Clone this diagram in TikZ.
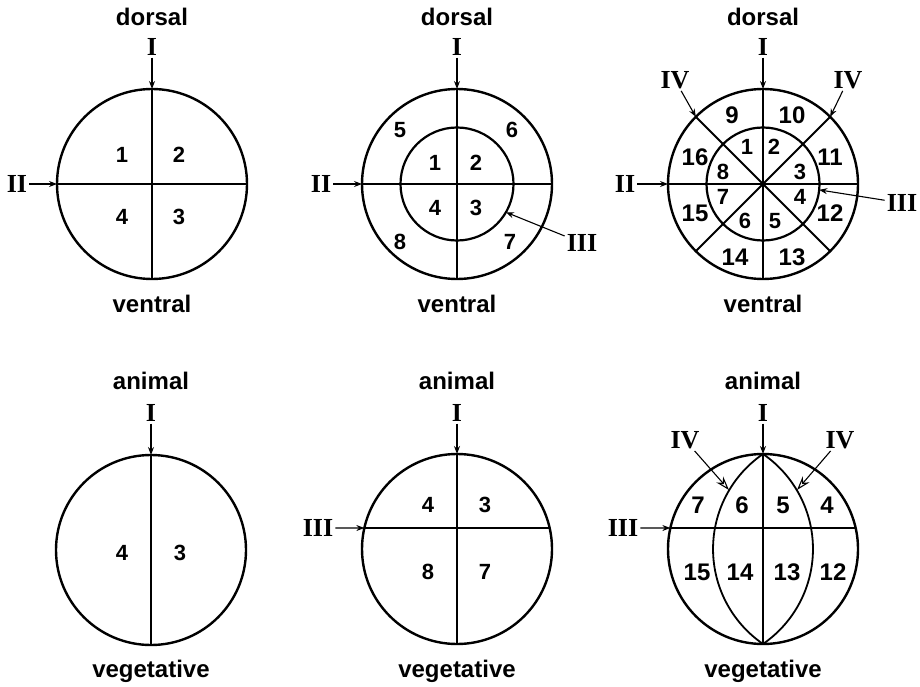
\documentclass[tikz,border=0pt]{standalone}
\usepackage{fontspec}
\setsansfont{Liberation Sans}
\newfontfamily\romanfont{Liberation Serif}
\usetikzlibrary{arrows.meta}

\begin{document}
\begin{tikzpicture}[x=1pt, y=1pt,
  egg/.style={draw, circle, line width=2.4pt, inner sep=0pt, outer sep=0pt, minimum size=190pt},
  core/.style={draw, circle, line width=2.2pt, inner sep=0pt, outer sep=0pt, minimum size=113pt},
  furrow/.style={line width=1.8pt},
  pole/.style={font=\sffamily\bfseries\fontsize{24}{24}\selectfont},
  cell/.style={font=\sffamily\bfseries\fontsize{22}{22}\selectfont, inner sep=0pt},
  bigcell/.style={font=\sffamily\bfseries\fontsize{24}{24}\selectfont, inner sep=0pt},
  cleave/.style={font=\romanfont\bfseries\fontsize{26}{26}\selectfont, inner sep=2pt},
  arrow/.style={-{Stealth[length=8pt, width=6pt]}, line width=1.1pt},
  openarrow/.style={-{Stealth[open, length=14pt, width=9pt]}, line width=1.1pt}
]
\useasboundingbox (0,0) rectangle (920,-687);

% top row: dorsal view
\node[egg] (topfour) at (152,-184) {};
\node[egg] (topeight) at (457,-184) {};
\node[egg] (topsixteen) at (763,-184) {};
\node[core] (topeightin) at (457,-184) {};
\node[core] (topsixteenin) at (763,-184) {};
\coordinate (diagNW) at ([shift={(135:95)}]topsixteen.center);
\coordinate (diagNE) at ([shift={(45:95)}]topsixteen.center);
\coordinate (diagSW) at ([shift={(225:95)}]topsixteen.center);
\coordinate (diagSE) at ([shift={(-45:95)}]topsixteen.center);
\coordinate (coreB) at ([shift={(-30:56.5)}]topeightin.center);
\coordinate (coreC) at ([shift={(-6:56.5)}]topsixteenin.center);
\draw[furrow] (topfour.north) -- (topfour.south);
\draw[furrow] (topfour.west) -- (topfour.east);
\draw[furrow] (topeight.north) -- (topeight.south);
\draw[furrow] (topeight.west) -- (topeight.east);
\draw[furrow] (topsixteen.north) -- (topsixteen.south);
\draw[furrow] (topsixteen.west) -- (topsixteen.east);
\draw[furrow] (diagNW) -- (diagSE);
\draw[furrow] (diagNE) -- (diagSW);

\node[pole] (dorsalA) at (152,-17) {dorsal};
\node[pole] (dorsalB) at (457,-17) {dorsal};
\node[pole] (dorsalC) at (763,-17) {dorsal};
\node[pole] (ventralA) at (152,-304) {ventral};
\node[pole] (ventralB) at (457,-304) {ventral};
\node[pole] (ventralC) at (763,-304) {ventral};

\node[cleave] (topfourI) at (152,-47) {I};
\node[cleave] (topeightI) at (457,-47) {I};
\node[cleave] (topsixteenI) at (763,-47) {I};
\node[cleave] (topfourII) at (17,-184) {II};
\node[cleave] (topeightII) at (321,-184) {II};
\node[cleave] (topsixteenII) at (625,-184) {II};
\node[cleave] (topeightIII) at (582,-243) {III};
\node[cleave] (topsixteenIII) at (902,-203) {III};
\node[cleave] (topsixteenIVa) at (675,-80) {IV};
\node[cleave] (topsixteenIVb) at (848,-80) {IV};
\draw[arrow] (topfourI) -- (topfour.north);
\draw[arrow] (topeightI) -- (topeight.north);
\draw[arrow] (topsixteenI) -- (topsixteen.north);
\draw[arrow] (topfourII) -- (topfour.west);
\draw[arrow] (topeightII) -- (topeight.west);
\draw[arrow] (topsixteenII) -- (topsixteen.west);
\draw[arrow] (topeightIII) -- (coreB);
\draw[arrow] (topsixteenIII) -- (coreC);
\draw[arrow] (topsixteenIVa) -- (diagNW);
\draw[arrow] (topsixteenIVb) -- (diagNE);

\node[cell] (tf1) at (122,-155) {1};
\node[cell] (tf2) at (179,-155) {2};
\node[cell] (tf3) at (179,-217) {3};
\node[cell] (tf4) at (122,-217) {4};

\node[cell] (te1) at (435,-163) {1};
\node[cell] (te2) at (476,-163) {2};
\node[cell] (te3) at (476,-208) {3};
\node[cell] (te4) at (435,-208) {4};
\node[cell] (te5) at (400,-130) {5};
\node[cell] (te6) at (512,-130) {6};
\node[cell] (te7) at (510,-242) {7};
\node[cell] (te8) at (400,-242) {8};

\node[cell] (ts1) at (747,-147) {1};
\node[cell] (ts2) at (774,-147) {2};
\node[cell] (ts3) at (800,-172) {3};
\node[cell] (ts4) at (800,-197) {4};
\node[cell] (ts5) at (775,-221) {5};
\node[cell] (ts6) at (745,-221) {6};
\node[cell] (ts7) at (723,-197) {7};
\node[cell] (ts8) at (723,-172) {8};
\node[bigcell] (ts9) at (732,-115) {9};
\node[bigcell] (ts10) at (792,-115) {10};
\node[bigcell] (ts11) at (830,-157) {11};
\node[bigcell] (ts12) at (830,-213) {12};
\node[bigcell] (ts13) at (792,-257) {13};
\node[bigcell] (ts14) at (735,-257) {14};
\node[bigcell] (ts15) at (695,-213) {15};
\node[bigcell] (ts16) at (695,-157) {16};

% bottom row: side view
\node[egg] (sidefour) at (151,-550) {};
\node[egg] (sideeight) at (457,-549) {};
\node[egg] (sidesixteen) at (763,-549) {};
\coordinate (eqleftB) at ([shift={(167.23:95)}]sideeight.center);
\coordinate (eqrightB) at ([shift={(12.77:95)}]sideeight.center);
\coordinate (eqleftC) at ([shift={(167.23:95)}]sidesixteen.center);
\coordinate (eqrightC) at ([shift={(12.77:95)}]sidesixteen.center);
\draw[furrow] (sidefour.north) -- (sidefour.south);
\draw[furrow] (sideeight.north) -- (sideeight.south);
\draw[furrow] (eqleftB) -- (eqrightB);
\draw[furrow] (sidesixteen.north) -- (sidesixteen.south);
\draw[furrow] (eqleftC) -- (eqrightC);
\draw[furrow] (sidesixteen.north) arc[start angle=124.5, end angle=235.5, radius=115.25];
\draw[furrow] (sidesixteen.north) arc[start angle=55.5, end angle=-55.5, radius=115.25];
\coordinate (lensleft) at (729,-490);
\coordinate (lensright) at (797,-490);

\node[pole] (animalA) at (151,-381) {animal};
\node[pole] (animalB) at (457,-381) {animal};
\node[pole] (animalC) at (763,-381) {animal};
\node[pole] (vegA) at (151,-671) {vegetative};
\node[pole] (vegB) at (457,-671) {vegetative};
\node[pole] (vegC) at (763,-671) {vegetative};

\node[cleave] (sidefourI) at (151,-413) {I};
\node[cleave] (sideeightI) at (457,-413) {I};
\node[cleave] (sidesixteenI) at (763,-413) {I};
\node[cleave] (sideeightIII) at (318,-528) {III};
\node[cleave] (sidesixteenIII) at (623,-528) {III};
\node[cleave] (sidesixteenIVa) at (685,-440) {IV};
\node[cleave] (sidesixteenIVb) at (840,-440) {IV};
\draw[arrow] (sidefourI) -- (sidefour.north);
\draw[arrow] (sideeightI) -- (sideeight.north);
\draw[arrow] (sidesixteenI) -- (sidesixteen.north);
\draw[arrow] (sideeightIII) -- (eqleftB);
\draw[arrow] (sidesixteenIII) -- (eqleftC);
\draw[openarrow] (sidesixteenIVa) -- (lensleft);
\draw[openarrow] (sidesixteenIVb) -- (lensright);

\node[cell] (sf3) at (180,-553) {3};
\node[cell] (sf4) at (122,-553) {4};

\node[cell] (se3) at (485,-505) {3};
\node[cell] (se4) at (428,-505) {4};
\node[cell] (se7) at (485,-572) {7};
\node[cell] (se8) at (428,-572) {8};

\node[bigcell] (ss4) at (827,-505) {4};
\node[bigcell] (ss5) at (783,-505) {5};
\node[bigcell] (ss6) at (742,-505) {6};
\node[bigcell] (ss7) at (698,-505) {7};
\node[bigcell] (ss12) at (833,-572) {12};
\node[bigcell] (ss13) at (787,-572) {13};
\node[bigcell] (ss14) at (740,-572) {14};
\node[bigcell] (ss15) at (697,-572) {15};
\end{tikzpicture}
\end{document}
